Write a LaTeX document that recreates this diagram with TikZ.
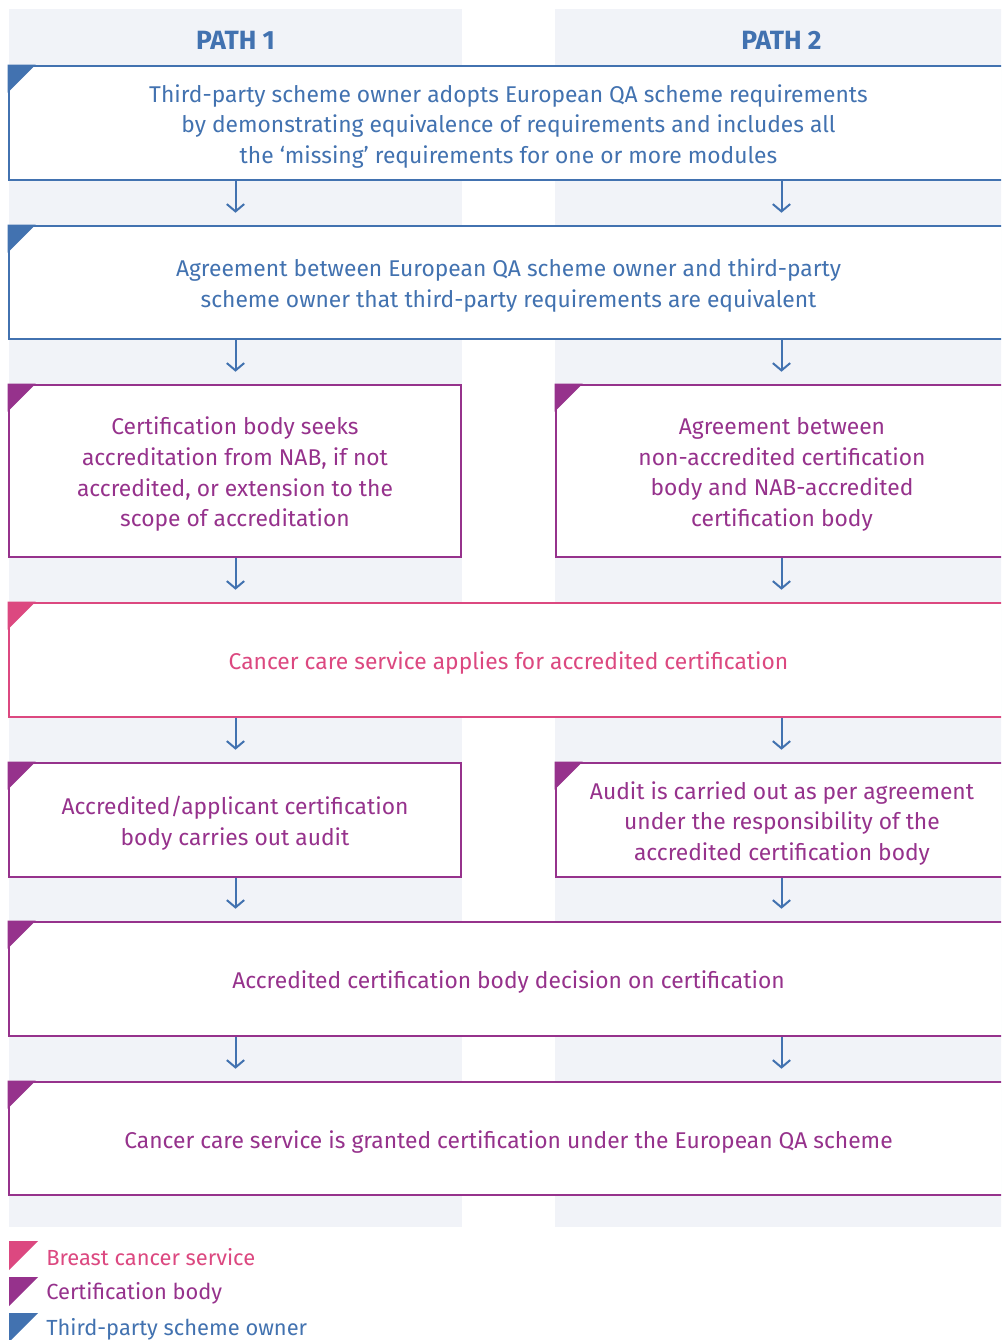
\documentclass[tikz,border=0pt]{standalone}
\usepackage{fontspec}
\setmainfont{Fira Sans}
\usetikzlibrary{arrows.meta,fit}
\definecolor{cblue}{RGB}{66,114,176}
\definecolor{cpurp}{RGB}{150,50,140}
\definecolor{cpink}{RGB}{220,72,128}
\definecolor{cbg}{RGB}{241,243,248}
\begin{document}
\begin{tikzpicture}[x=0.75pt,y=-0.75pt,
  txt/.style={font=\fontsize{17.1}{23}\selectfont},
  box/.style={draw=#1, line width=1.9pt, fill=white, text=#1, align=center, inner sep=0pt, txt},
  btext/.style={text=#1, align=center, txt, yshift=-2.4pt},
  arr/.style={draw=cblue, line width=1.5pt, -{Straight Barb[length=5.5pt,width=13pt,line width=1.5pt]}, shorten >=9pt},
  head/.style={text=cblue, font=\fontsize{19.8}{22}\selectfont\bfseries},
  legtxt/.style={anchor=west, inner sep=0pt, font=\fontsize{16.4}{20}\selectfont, text=#1}]
\clip (0,0) rectangle (1001,1340);
\fill[white] (0,0) rectangle (1001,1340);
% column backgrounds
\fill[cbg] (9,9) rectangle (462,1227);
\fill[cbg] (555,9) rectangle (1008,1227);
\coordinate (cL) at (235.5,0);
\coordinate (cR) at (781.5,0);
\node[head] (h1) at (235.5,40) {PATH 1};
\node[head] (h2) at (781.5,40) {PATH 2};
% boxes
\node[box=cblue, fit={(9,66) (1008,180)}] (b1) {};
\node[btext=cblue] (t1) at (b1.center) {Third-party scheme owner adopts European QA scheme requirements\\by demonstrating equivalence of requirements and includes all\\the ‘missing’ requirements for one or more modules};
\node[box=cblue, fit={(9,226) (1008,339)}] (b2) {};
\node[btext=cblue] (t2) at (b2.center) {Agreement between European QA scheme owner and third-party\\scheme owner that third-party requirements are equivalent};
\node[box=cpurp, fit={(9,385) (461,557)}] (b3l) {};
\node[btext=cpurp] (t3l) at (b3l.center) {Certification body seeks\\accreditation from NAB, if not\\accredited, or extension to the\\scope of accreditation};
\node[box=cpurp, fit={(556,385) (1008,557)}] (b3r) {};
\node[btext=cpurp] (t3r) at (b3r.center) {Agreement between\\non-accredited certification\\body and NAB-accredited\\certification body};
\node[box=cpink, fit={(9,603) (1008,717)}] (b4) {};
\node[btext=cpink] (t4) at (b4.center) {Cancer care service applies for accredited certification};
\node[box=cpurp, fit={(9,763) (461,877)}] (b5l) {};
\node[btext=cpurp] (t5l) at (b5l.center) {Accredited/applicant certification\\body carries out audit};
\node[box=cpurp, fit={(556,763) (1008,877)}] (b5r) {};
\node[btext=cpurp] (t5r) at (b5r.center) {Audit is carried out as per agreement\\under the responsibility of the\\accredited certification body};
\node[box=cpurp, fit={(9,922) (1008,1036)}] (b6) {};
\node[btext=cpurp] (t6) at (b6.center) {Accredited certification body decision on certification};
\node[box=cpurp, fit={(9,1082) (1008,1195)}] (b7) {};
\node[btext=cpurp] (t7) at (b7.center) {Cancer care service is granted certification under the European QA scheme};
% corner triangles
\foreach \b/\c in {b1/cblue,b2/cblue,b3l/cpurp,b3r/cpurp,b4/cpink,b5l/cpurp,b5r/cpurp,b6/cpurp,b7/cpurp}
  \fill[\c] (\b.north west) -- ++(28,0) -- ++(-28,28) -- cycle;
% arrows
\draw[arr] (b1.south -| cL) -- (b2.north -| cL);
\draw[arr] (b1.south -| cR) -- (b2.north -| cR);
\draw[arr] (b2.south -| cL) -- (b3l.north -| cL);
\draw[arr] (b2.south -| cR) -- (b3r.north -| cR);
\draw[arr] (b3l.south -| cL) -- (b4.north -| cL);
\draw[arr] (b3r.south -| cR) -- (b4.north -| cR);
\draw[arr] (b4.south -| cL) -- (b5l.north -| cL);
\draw[arr] (b4.south -| cR) -- (b5r.north -| cR);
\draw[arr] (b5l.south -| cL) -- (b6.north -| cL);
\draw[arr] (b5r.south -| cR) -- (b6.north -| cR);
\draw[arr] (b6.south -| cL) -- (b7.north -| cL);
\draw[arr] (b6.south -| cR) -- (b7.north -| cR);
% legend
\fill[cpink] (9,1241) -- (38,1241) -- (9,1270) -- cycle;
\fill[cpurp] (9,1277) -- (38,1277) -- (9,1306) -- cycle;
\fill[cblue] (9,1313) -- (38,1313) -- (9,1342) -- cycle;
\node[legtxt=cpink] (l1) at (46,1257) {Breast cancer service};
\node[legtxt=cpurp] (l2) at (46,1293) {Certification body};
\node[legtxt=cblue] (l3) at (46,1329) {Third-party scheme owner};
\end{tikzpicture}
\end{document}
